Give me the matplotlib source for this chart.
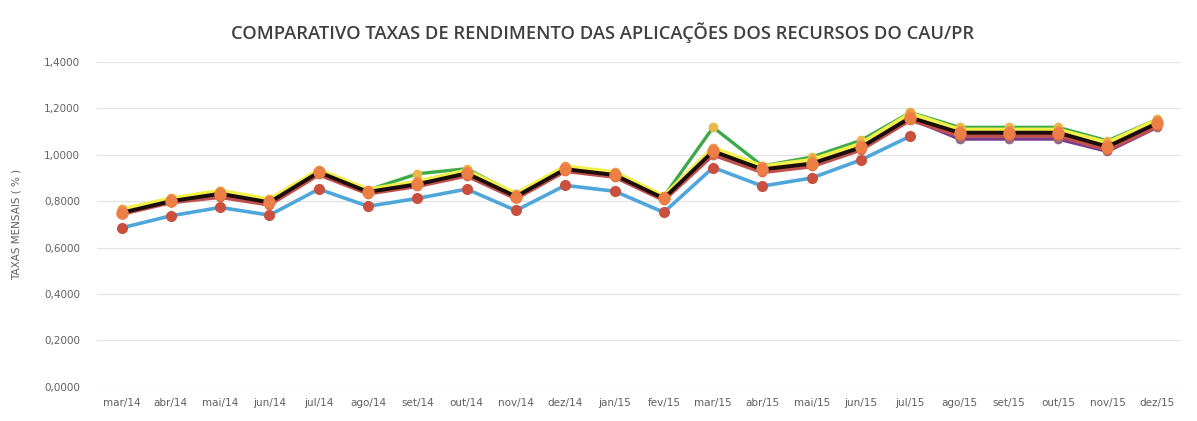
import numpy as np
import matplotlib.pyplot as plt
from matplotlib.ticker import FuncFormatter

months = ["mar/14", "abr/14", "mai/14", "jun/14", "jul/14", "ago/14", "set/14", "out/14",
          "nov/14", "dez/14", "jan/15", "fev/15", "mar/15", "abr/15", "mai/15", "jun/15",
          "jul/15", "ago/15", "set/15", "out/15", "nov/15", "dez/15"]

# taxas mensais (%)
serie_amarela = [0.765, 0.812, 0.845, 0.808, 0.935, 0.850, 0.885, 0.932, 0.832, 0.950, 0.925, 0.822,
                 1.030, 0.950, 0.978, 1.048, 1.178, 1.108, 1.108, 1.108, 1.052, 1.150]
serie_verde = [0.762, 0.810, 0.842, 0.805, 0.932, 0.848, 0.918, 0.940, 0.830, 0.948, 0.922, 0.820,
               1.118, 0.952, 0.990, 1.062, 1.182, 1.118, 1.118, 1.118, 1.060, 1.152]
serie_preta = [0.750, 0.800, 0.832, 0.795, 0.925, 0.840, 0.873, 0.920, 0.820, 0.938, 0.913, 0.812,
               1.015, 0.937, 0.962, 1.032, 1.160, 1.095, 1.095, 1.095, 1.035, 1.135]
serie_vinho = [0.745, 0.795, 0.818, 0.785, 0.915, 0.833, 0.865, 0.910, 0.812, 0.930, 0.905, 0.805,
               1.000, 0.925, 0.950, 1.022, 1.150, 1.082, 1.082, 1.082, 1.022, 1.122]
serie_roxa = [0.748, 0.798, 0.825, 0.790, 0.920, 0.836, 0.868, 0.915, 0.815, 0.933, 0.908, 0.808,
              1.005, 0.930, 0.955, 1.026, 1.155, 1.068, 1.068, 1.068, 1.015, 1.118]
serie_azul = [0.685, 0.737, 0.773, 0.740, 0.852, 0.778, 0.812, 0.852, 0.760, 0.868, 0.843, 0.752,
              0.945, 0.865, 0.900, 0.978, 1.080]

fig = plt.figure(figsize=(11.97, 4.21), dpi=100)
ax = fig.add_axes([0.081, 0.081, 0.906, 0.772])
x = np.arange(len(months))

ax.plot(np.arange(len(serie_azul)), serie_azul, color='#4FA6DA', lw=2.6, marker='o', ms=7,
        mfc='#C9503F', mec='#C9503F', zorder=3)
ax.plot(x, serie_roxa, color='#7A3E8E', lw=2.6, marker='o', ms=6, mfc='#8E6A8A', mec='#8E6A8A', zorder=4)
ax.plot(x, serie_vinho, color='#C0504D', lw=3, marker='o', ms=6, mfc='#D9694A', mec='#D9694A', zorder=5)
ax.plot(x, serie_verde, color='#3DAA4A', lw=2.4, marker='o', ms=6, mfc='#E8B84A', mec='#E8B84A', zorder=5)
ax.plot(x, serie_amarela, color='#F2F04A', lw=3, marker='o', ms=6, mfc='#EE9A45', mec='#EE9A45', zorder=6)
ax.plot(x, serie_preta, color='#1A0D0A', lw=2.8, marker='o', ms=8, mfc='#EB7F45', mec='#EB7F45', zorder=7)

ax.set_xlim(-0.5, len(months) - 0.5)
ax.set_ylim(0, 1.4)
ax.set_yticks(np.arange(0, 1.41, 0.2))
ax.yaxis.set_major_formatter(FuncFormatter(lambda v, p: f"{v:.4f}".replace('.', ',')))
ax.set_xticks(x)
ax.set_xticklabels(months)
ax.grid(axis='y', color='#E3E3E3', lw=0.9)
ax.set_axisbelow(True)
for s in ax.spines.values():
    s.set_visible(False)
ax.tick_params(length=0, labelsize=7.5, labelcolor='#606060', pad=12)
ax.tick_params(axis='x', pad=8)
ax.set_ylabel("TAXAS MENSAIS ( % )", fontsize=7.5, color='#606060', labelpad=16)

fig.suptitle("COMPARATIVO TAXAS DE RENDIMENTO DAS APLICAÇÕES DOS RECURSOS DO CAU/PR",
             x=0.503, y=0.922, va='center', fontsize=13.2, color='#404040',
             fontfamily='Open Sans', fontweight='semibold')

fig.savefig("out.png", dpi=100)
